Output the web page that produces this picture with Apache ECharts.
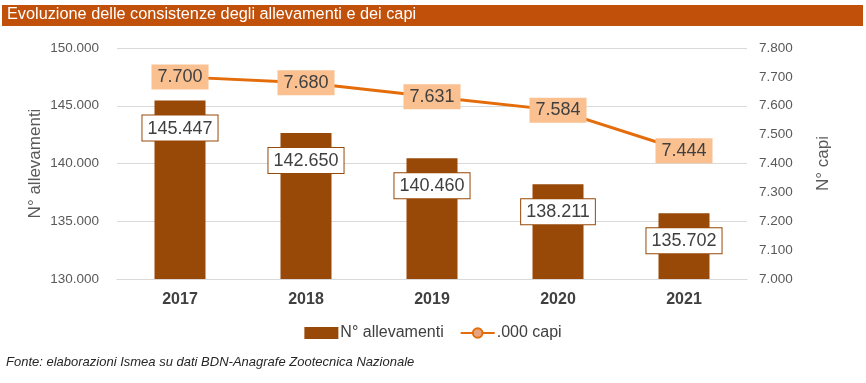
<!DOCTYPE html>
<html><head><meta charset="utf-8">
<script src="https://cdn.jsdelivr.net/npm/echarts@6/dist/echarts.min.js"></script>
<style>html,body{margin:0;padding:0;background:#fff}#c{width:866px;height:383px}</style>
</head><body><div id="c"></div>
<script>
var years = ['2017', '2018', '2019', '2020', '2021'];
var allevamenti = [145447, 142650, 140460, 138211, 135702];
var capi = [7700, 7680, 7631, 7584, 7444];
var titleText = 'Evoluzione delle consistenze degli allevamenti e dei capi';
var sourceText = 'Fonte: elaborazioni Ismea su dati BDN-Anagrafe Zootecnica Nazionale';

function fmt(v) {
  return String(Math.round(v)).replace(/\B(?=(\d{3})+(?!\d))/g, '.');
}
var FF = 'Liberation Sans, Arial, sans-serif';
var chart = echarts.init(document.getElementById('c'));
chart.setOption({
  animation: false,
  textStyle: { fontFamily: FF },
  graphic: [
    { type: 'rect', left: 2, top: 5, shape: { width: 861, height: 21 }, style: { fill: '#C0500A' } },
    { type: 'text', left: 7, top: 6.5, style: { text: titleText, fill: '#fff', font: '16.3px ' + FF } },
    { type: 'text', left: 6, top: 356, style: { text: sourceText, fill: '#262626', font: 'italic 13px ' + FF } }
  ],
  grid: { left: 117, right: 119, top: 48, bottom: 104 },
  legend: {
    top: 320, left: 'center',
    itemWidth: 34, itemHeight: 12, itemGap: 16,
    textStyle: { fontSize: 16, color: '#404040', fontFamily: FF, padding: [0, 0, 0, -3] },
    data: [
      { name: 'N° allevamenti', icon: 'rect' },
      { name: '.000 capi' }
    ]
  },
  xAxis: {
    type: 'category', data: years,
    axisLine: { lineStyle: { color: '#D9D9D9' } },
    axisTick: { show: false },
    axisLabel: { fontSize: 16, fontWeight: 'bold', color: '#404040', margin: 13 }
  },
  yAxis: [
    {
      type: 'value', min: 130000, max: 150000, interval: 5000,
      name: 'N° allevamenti', nameLocation: 'middle', nameGap: 73, nameRotate: 90,
      nameMoveOverlap: false,
      nameTextStyle: { fontSize: 17, color: '#595959' },
      axisLabel: { fontSize: 13.5, color: '#595959', margin: 18, formatter: fmt },
      axisLine: { show: false }, axisTick: { show: false },
      splitLine: { lineStyle: { color: '#D9D9D9' } }
    },
    {
      type: 'value', min: 7000, max: 7800, interval: 100,
      name: 'N° capi', nameLocation: 'middle', nameGap: 68, nameRotate: 90,
      nameTextStyle: { fontSize: 17, color: '#595959' },
      axisLabel: { fontSize: 13.5, color: '#595959', margin: 12, formatter: fmt },
      axisLine: { show: false }, axisTick: { show: false },
      splitLine: { show: false }
    }
  ],
  series: [
    {
      name: 'N° allevamenti', type: 'bar', data: allevamenti, yAxisIndex: 0,
      barWidth: 51,
      itemStyle: { color: '#984807' },
      label: {
        show: true, position: 'insideTop', distance: 15,
        formatter: function (p) { return fmt(p.value); },
        fontSize: 18, color: '#404040',
        backgroundColor: '#fff', borderColor: '#984807', borderWidth: 1,
        padding: [4, 5, 3, 5]
      }
    },
    {
      name: '.000 capi', type: 'line', data: capi, yAxisIndex: 1,
      symbol: 'circle', symbolSize: 8,
      lineStyle: { color: '#E46C0A', width: 3 },
      itemStyle: { color: '#E8A37F', borderColor: '#E46C0A', borderWidth: 1.5 },
      label: {
        show: true, position: 'inside',
        formatter: function (p) { return fmt(p.value); },
        fontSize: 18, color: '#404040',
        backgroundColor: '#FAC090',
        padding: [4, 6, 3, 6]
      },
      z: 5
    }
  ]
});
</script></body></html>
